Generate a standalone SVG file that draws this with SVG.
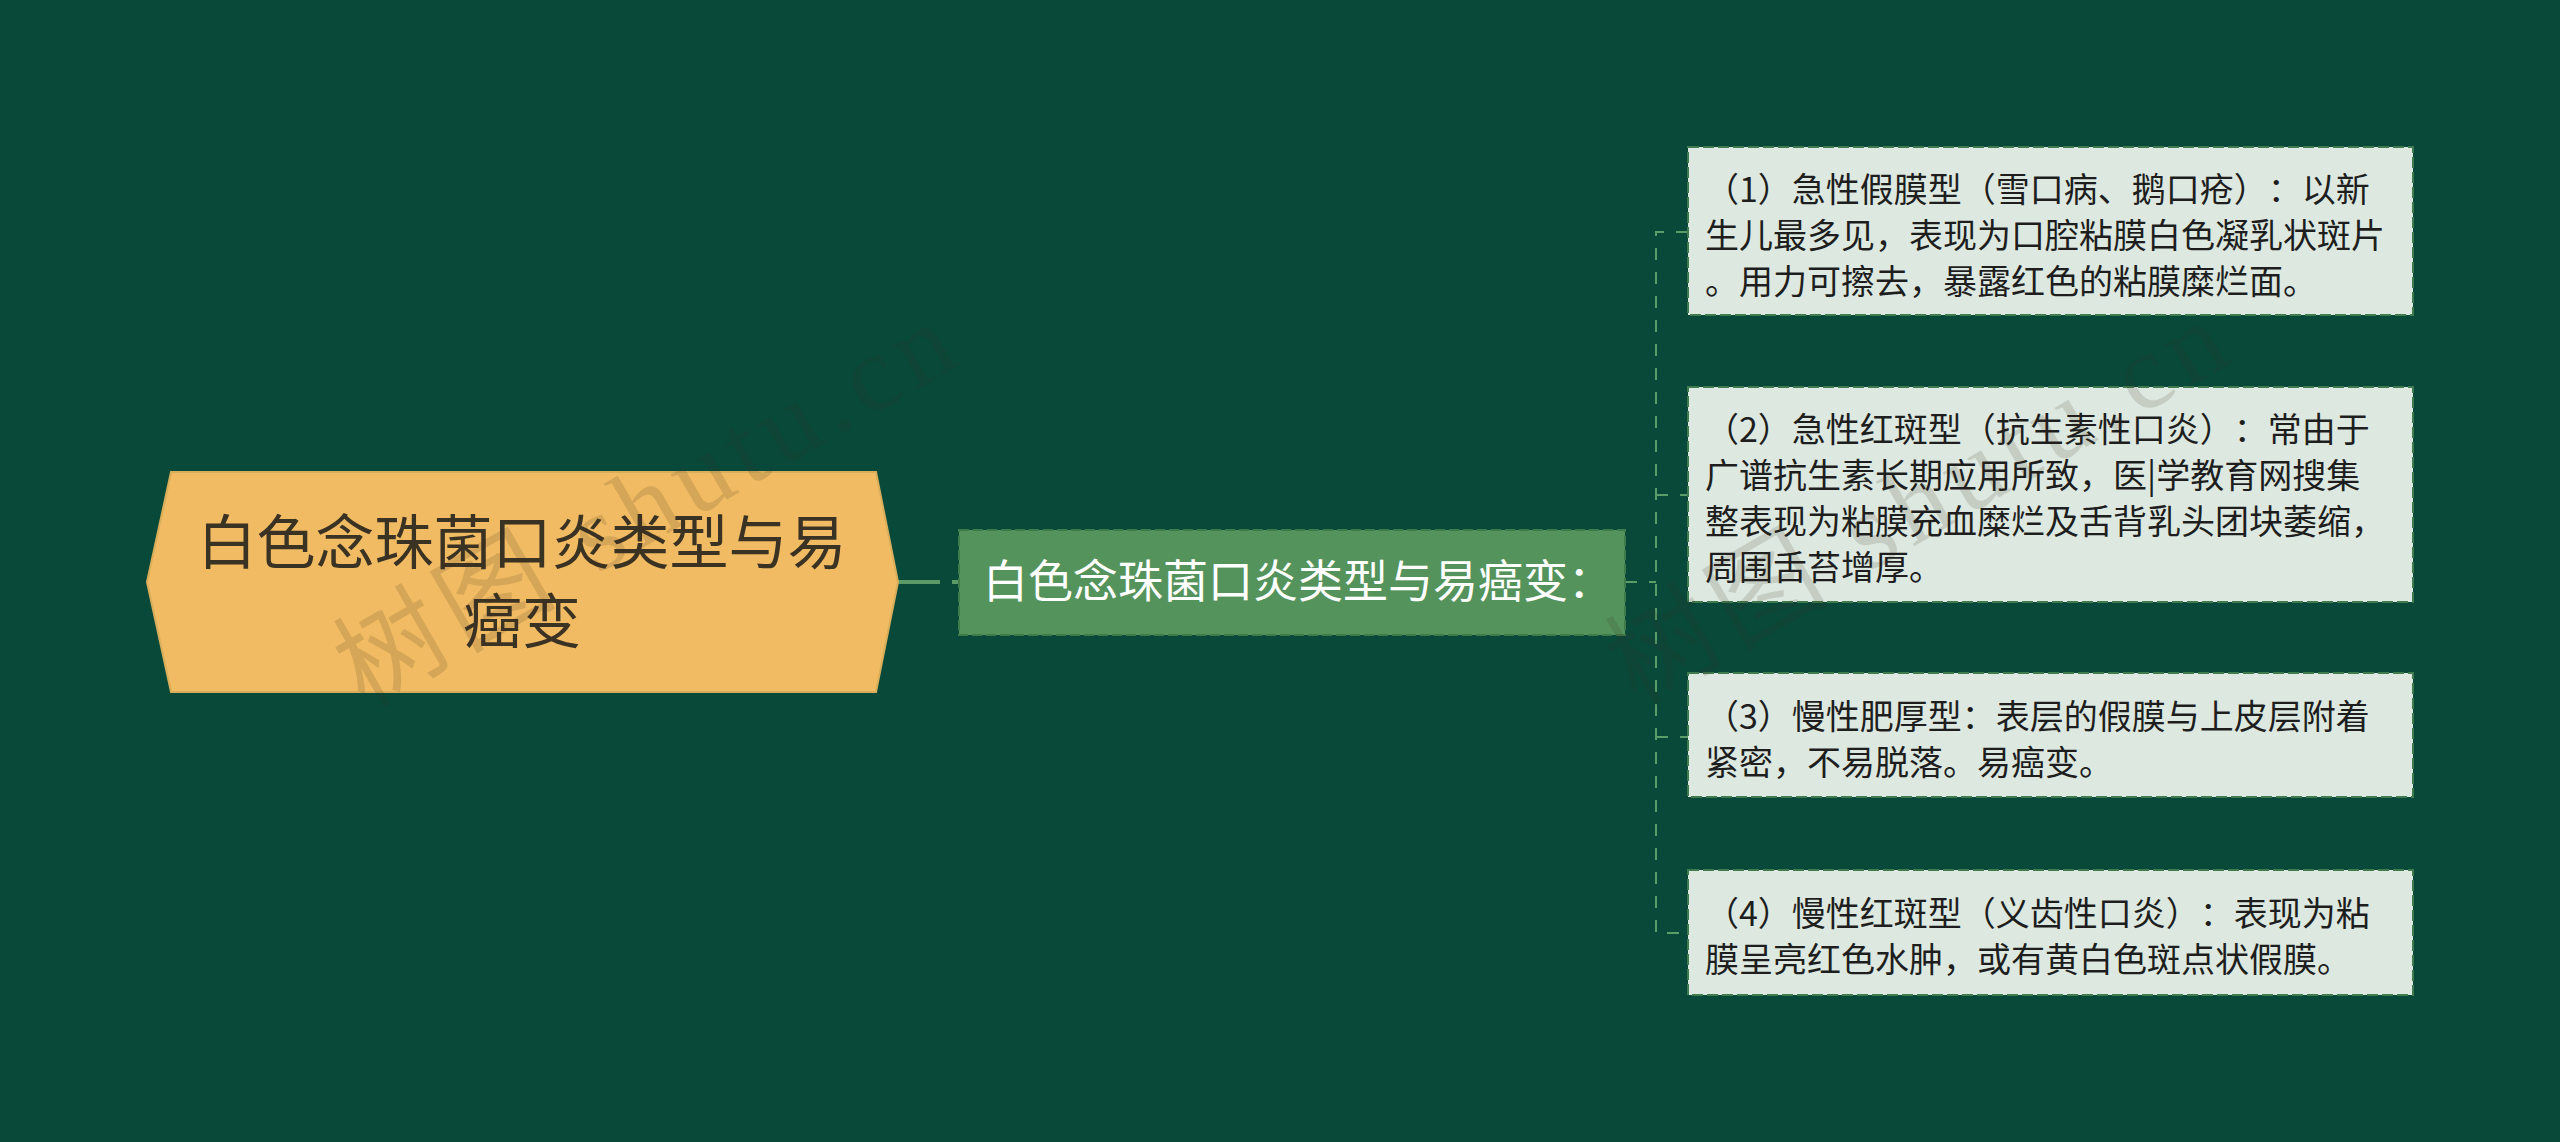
<svg xmlns="http://www.w3.org/2000/svg" width="2560" height="1142" viewBox="0 0 2560 1142">
  <style>
    .bg { fill: #08493A; }
    .cjk { font-family: "Noto Sans CJK SC", "Noto Sans", sans-serif; text-spacing-trim: space-all; }
    .root-shape { fill: #F0BB62; stroke: #D8AE5A; stroke-width: 2; }
    .root-text { font-size: 59px; fill: #3A3223; }
    .mid-shape { fill: #55935C; stroke: #3F7B48; stroke-width: 2; stroke-dasharray: 10 4; }
    .mid-text { font-size: 45px; fill: #FFFFFF; }
    .leaf-shape { fill: #DDE9E0; stroke: #3F7B4E; stroke-width: 2; stroke-dasharray: 11 4; }
    .leaf-text { font-size: 34px; fill: #1E1E1E; }
    .conn { fill: none; stroke: #5A9D68; stroke-width: 2; stroke-dasharray: 12 12; }
    .conn-main { fill: none; stroke: #5A9A66; stroke-width: 4; stroke-dasharray: 42 12; }
    .wm { font-family: "Liberation Serif", "Noto Sans CJK SC", serif; font-size: 108px; fill: #3A3020; fill-opacity: 0.15; }
  </style>
  <rect class="bg" x="0" y="0" width="2560" height="1142"/>

  <g id="connectors">
    <path class="conn-main" d="M898,582 H959"/>
    <path class="conn" d="M1625,582 H1656"/>
    <path class="conn" d="M1688,232 H1656 V933 H1688"/>
    <path class="conn" d="M1656,495 H1688"/>
    <path class="conn" d="M1656,737 H1688"/>
  </g>

  <g id="root">
    <polygon class="root-shape" points="147,582 171,472 876,472 898,582 876,692 171,692"/>
    <text class="cjk root-text" x="522" y="564" text-anchor="middle">白色念珠菌口炎类型与易</text>
    <text class="cjk root-text" x="522" y="643" text-anchor="middle">癌变</text>
  </g>

  <g id="middle">
    <rect class="mid-shape" x="959" y="530" width="666" height="105"/>
    <text class="cjk mid-text" x="983" y="598">白色念珠菌口炎类型与易癌变：</text>
  </g>

  <g id="leaf1">
    <rect class="leaf-shape" x="1688" y="147" width="725" height="168"/>
    <text class="cjk leaf-text" x="1705" y="202">（1）急性假膜型（雪口病、鹅口疮）：以新</text>
    <text class="cjk leaf-text" x="1705" y="248">生儿最多见，表现为口腔粘膜白色凝乳状斑片</text>
    <text class="cjk leaf-text" x="1705" y="294">。用力可擦去，暴露红色的粘膜糜烂面。</text>
  </g>

  <g id="leaf2">
    <rect class="leaf-shape" x="1688" y="387" width="725" height="215"/>
    <text class="cjk leaf-text" x="1705" y="442">（2）急性红斑型（抗生素性口炎）：常由于</text>
    <text class="cjk leaf-text" x="1705" y="488">广谱抗生素长期应用所致，医|学教育网搜集</text>
    <text class="cjk leaf-text" x="1705" y="534">整表现为粘膜充血糜烂及舌背乳头团块萎缩，</text>
    <text class="cjk leaf-text" x="1705" y="580">周围舌苔增厚。</text>
  </g>

  <g id="leaf3">
    <rect class="leaf-shape" x="1688" y="673" width="725" height="124"/>
    <text class="cjk leaf-text" x="1705" y="729">（3）慢性肥厚型：表层的假膜与上皮层附着</text>
    <text class="cjk leaf-text" x="1705" y="775">紧密，不易脱落。易癌变。</text>
  </g>

  <g id="leaf4">
    <rect class="leaf-shape" x="1688" y="870" width="725" height="125"/>
    <text class="cjk leaf-text" x="1705" y="926">（4）慢性红斑型（义齿性口炎）：表现为粘</text>
    <text class="cjk leaf-text" x="1705" y="972">膜呈亮红色水肿，或有黄白色斑点状假膜。</text>
  </g>

  <g id="watermarks">
    <text class="wm" transform="translate(645,505) rotate(-30)" x="0" y="36" text-anchor="middle" textLength="690" lengthAdjust="spacing">树图 shutu.cn</text>
    <text class="wm" transform="translate(1917,503) rotate(-30)" x="0" y="36" text-anchor="middle" textLength="690" lengthAdjust="spacing">树图 shutu.cn</text>
  </g>
</svg>
